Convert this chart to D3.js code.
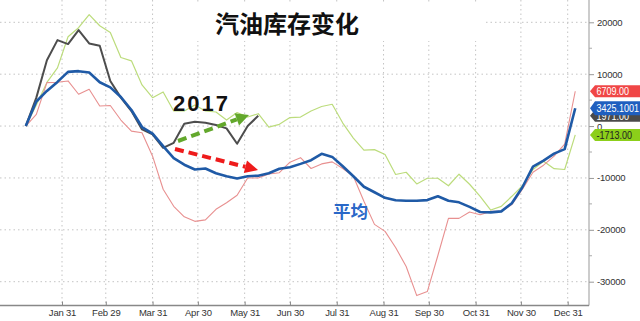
<html>
<style>
  body { margin: 0; background: #fff; }
  text { font-family: "Liberation Sans", Arial, sans-serif; }
  .grid line { stroke: #c4c4c4; stroke-dasharray: 1.5,3; }
  .ax text { font-family: "Liberation Sans", Arial, sans-serif; font-size: 9.5px; fill: #333; letter-spacing: -0.2px; }
</style>
<body>
<svg id="chart" width="640" height="321"></svg>
</body>
</html>
<script src="https://d3js.org/d3.v7.min.js"></script>
<script type="text/javascript">
// weekly gasoline inventory change, first week Jan 7
var weekCount = 53;
var avgChange = [0, 4740, 6770, 8510, 10440, 10580, 10310, 8450, 7450, 5610, 3090, -190, -1450, -3870,
  -6190, -7450, -8370, -8180, -9090, -9670, -10110, -9670, -9570, -9090, -8220, -7930, -7290, -6580,
  -5360, -5940, -7740, -9670, -11700, -12760, -13830, -14310, -14410, -14410, -14270, -13540, -14410,
  -14700, -15570, -16570, -16630, -16440, -14890, -11800, -7830, -6670, -5320, -4450, 3425.1001];
var change2017 = [0, 5480, 12700, 16570, 15800, 18510, 15920, 15470, 8700, 5480, 2900, -640, -1610,
  -4200, -3230, 440, 830, 640, 190, -450, -3420, 0, 1971];
var changeRed = [0, 2260, 8370, 8450, 8700, 6130, 7100, 3870, 3960, 1160, -970, -1300, -5800, -12180,
  -15470, -17500, -18370, -18080, -16050, -14790, -13340, -10000, -10000, -9230, -8990, -6960, -6090,
  -8180, -7290, -6900, -8180, -9670, -14500, -18950, -20300, -23400, -27080, -32680, -31910, -24950,
  -17790, -17790, -16570, -17080, -16440, -16440, -15140, -12180, -8900, -7540, -5800, -3480, 6709];
var changeGreen = [0, 4060, 8410, 11220, 17210, 18950, 21470, 19340, 18040, 13210, 12570, 7930, 5470,
  6580, 2900, 2900, 4060, 2900, 2710, 1160, 2610, 1740, 2380, -190, 330, 1640, 1740, 2900, 3770, 4200,
  580, -2320, -4640, -4540, -5470, -9340, -8900, -11160, -10060, -10060, -11510, -9280, -11220, -13540,
  -16190, -15470, -13540, -11510, -8370, -6770, -8220, -8370, -1713];
var lastLabels = ["6709.00", "1971.00", "3425.1001", "-1713.00"];
var yTicks = [20000, 10000, 0, -10000, -20000, -30000];
var monthTicks = ["2016-01-31", "2016-02-29", "2016-03-31", "2016-04-30", "2016-05-31", "2016-06-30",
  "2016-07-31", "2016-08-31", "2016-09-30", "2016-10-31", "2016-11-30", "2016-12-31"];

var svg = d3.select("#chart");
var parse = d3.timeParse("%Y-%m-%d");
var dates = d3.range(weekCount).map(function(i){ return d3.timeDay.offset(new Date(2016, 0, 7), 7 * i); });
var tickDates = monthTicks.map(parse);

var x = d3.scaleTime().domain([parse("2016-01-31"), parse("2016-12-31")]).range([62, 567.7]);
var y = d3.scaleLinear().domain([-30000, 20000]).range([281.7, 22.3]);
var axisX = 589, axisY = 305.5;

// grid
var grid = svg.append("g").attr("class", "grid");
grid.selectAll(".h").data(yTicks).enter().append("line")
  .attr("x1", 0).attr("x2", axisX).attr("y1", function(d){ return y(d); }).attr("y2", function(d){ return y(d); });
grid.selectAll(".v").data(tickDates).enter().append("line")
  .attr("y1", 0).attr("y2", axisY).attr("x1", function(d){ return x(d); }).attr("x2", function(d){ return x(d); });

// title box hides grid behind it
svg.append("rect").attr("x", 158).attr("y", 4).attr("width", 325).attr("height", 37).attr("fill", "#fff");
svg.append("text").attr("x", 215).attr("y", 33)
  .style("font-family", "'Noto Sans CJK SC', sans-serif").style("font-weight", "bold").style("font-size", "24px")
  .attr("fill", "#111").text("汽油库存变化");

// axes
var ya = svg.append("g").attr("class", "ax").attr("transform", "translate(" + axisX + ",0)")
  .call(d3.axisRight(y).tickValues(yTicks).tickSize(5).tickPadding(3).tickFormat(d3.format("d")));
ya.select(".domain").attr("d", "M0,0V" + axisY).attr("stroke", "#999");
ya.selectAll(".tick line").attr("stroke", "#999");
ya.selectAll(".tick text").text(function(d){ return d < 0 ? "-" + Math.abs(d) : d; });
svg.append("g").selectAll("line").data(d3.range(-25000, 20000, 10000)).enter().append("line")
  .attr("x1", axisX).attr("x2", axisX + 3).attr("y1", function(d){ return y(d); }).attr("y2", function(d){ return y(d); })
  .attr("stroke", "#aaa");

var xa = svg.append("g").attr("class", "ax").attr("transform", "translate(0," + axisY + ")")
  .call(d3.axisBottom(x).tickValues(tickDates).tickSize(-4).tickPadding(4).tickFormat(d3.timeFormat("%b %d")));
xa.select(".domain").attr("d", "M0,0H" + axisX).attr("stroke", "#888").attr("stroke-width", 1.5);
xa.selectAll(".tick line").attr("stroke", "#888");

// lines
var line = d3.line().x(function(d, i){ return x(dates[i]); }).y(function(d){ return y(d); });
function drawLine(vals, color, width) {
  svg.append("path").datum(vals).attr("d", line).attr("fill", "none")
    .attr("stroke", color).attr("stroke-width", width).attr("stroke-linejoin", "round");
}
drawLine(changeGreen, "#bcdc7c", 1.2);
drawLine(changeRed, "#e89090", 1.1);
drawLine(change2017, "#4d4d4d", 2);
drawLine(avgChange, "#1f5aa6", 2.6);

// annotations
svg.append("text").attr("x", 173).attr("y", 111).style("font-weight", "bold").style("font-size", "22px")
  .style("letter-spacing", "2px").attr("fill", "#111").text("2017");
svg.append("text").attr("x", 333).attr("y", 218)
  .style("font-family", "'Noto Sans CJK SC', sans-serif").style("font-weight", "bold").style("font-size", "17.5px")
  .attr("fill", "#2a68c8").text("平均");

function arrow(x1, y1, x2, y2, color) {
  var a = Math.atan2(y2 - y1, x2 - x1), L = 13, W = 6.5;
  var bx = x2 - L * Math.cos(a), by = y2 - L * Math.sin(a);
  svg.append("line").attr("x1", x1).attr("y1", y1).attr("x2", bx).attr("y2", by)
    .attr("stroke", color).attr("stroke-width", 4).attr("stroke-dasharray", "9,5");
  svg.append("polygon").attr("fill", color).attr("points", [
    [x2, y2],
    [bx + W * Math.sin(a), by - W * Math.cos(a)],
    [bx - W * Math.sin(a), by + W * Math.cos(a)]].map(function(p){ return p.join(","); }).join(" "));
}
arrow(178, 141, 249, 115, "#63a82c");
arrow(175, 149, 258, 170, "#ee1b1b");

// last value flags
var flagVals = [changeRed[changeRed.length - 1], change2017[change2017.length - 1], avgChange[avgChange.length - 1], changeGreen[changeGreen.length - 1]];
var flagFill = ["#f04646", "#4a4a4a", "#1f5fbf", "#8ccf1a"];
var flagText = ["#fff", "#fff", "#fff", "#222"];
flagVals.forEach(function(v, i) {
  var cy = y(v), h = i == 2 ? 7 : 6;
  svg.append("polygon").attr("fill", flagFill[i])
    .attr("points", [[590, cy], [595, cy - h], [640, cy - h], [640, cy + h], [595, cy + h]].map(function(p){ return p.join(","); }).join(" "));
  svg.append("text").attr("transform", "translate(596.5," + (cy + 4) + ") scale(0.82,1)")
    .style("font-size", "11px")
    .attr("fill", flagText[i]).text(lastLabels[i]);
});
</script>
